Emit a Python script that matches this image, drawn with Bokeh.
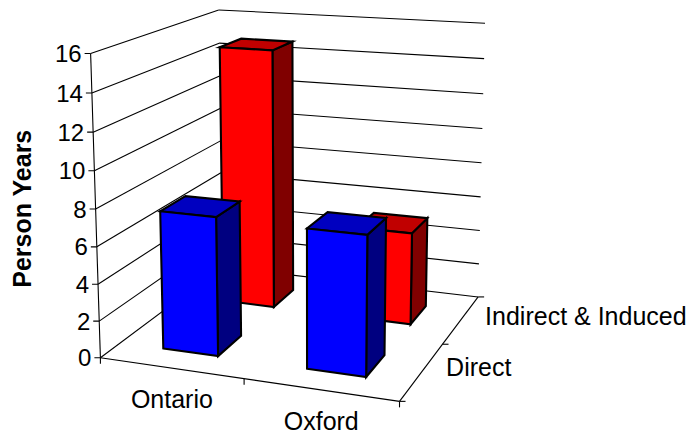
import numpy as np
from bokeh.plotting import figure
from bokeh.core.properties import value
from bokeh.embed import file_html
from bokeh.resources import INLINE

categories = ["Ontario", "Oxford"]
series_names = ["Direct", "Indirect & Induced"]
direct = [7.5, 7.4]
indirect = [14.8, 5.2]
value_ticks = [0, 2, 4, 6, 8, 10, 12, 14, 16]
axis_title = "Person Years"

series = [(0, direct, "#0000ff", "#0000c0", "#000080"),
          (1, indirect, "#ff0000", "#c00000", "#800000")]

# Perspective camera for the 3D box: box coordinates (category, series, value)
# paired with where they land on the page.
CAMERA = [((0, 0, 0), (100, 358)), ((0, 0, 16), (91, 52)), ((0, 2, 16), (217, 10)),
          ((0, 2, 0), (222, 266)), ((2, 2, 0), (478, 296)), ((2, 2, 16), (485, 23)),
          ((2, 0, 0), (398, 401))]


def fit_camera(pairs):
    rows = []
    for (x, y, z), (u, v) in pairs:
        rows.append([x, y, z, 1, 0, 0, 0, 0, -u * x, -u * y, -u * z, -u])
        rows.append([0, 0, 0, 0, x, y, z, 1, -v * x, -v * y, -v * z, -v])
    return np.linalg.svd(np.array(rows, float))[2][-1].reshape(3, 4)


M = fit_camera(CAMERA)


def project(x, y, z):
    h = M @ np.array([x, y, z, 1.0])
    return float(h[0] / h[2]), float(h[1] / h[2])


p = figure(width=690, height=434, x_range=(0, 690), y_range=(434, 0),
           output_backend="svg", toolbar_location=None, min_border=0)
p.axis.visible = False
p.grid.visible = False
p.outline_line_color = None
p.background_fill_color = "#ffffff"
p.border_fill_color = "#ffffff"

INK = "#000000"


def seg(a, b, color=INK, width=1.1):
    pa, pb = project(*a), project(*b)
    p.line([pa[0], pb[0]], [pa[1], pb[1]], line_color=color, line_width=width)


# Walls: gridlines on the side and back, with value ticks at the front edge
for z in value_ticks:
    seg((0, 0, z), (0, 2, z))
    seg((0, 2, z), (2, 2, z))
    u, v = project(0, 0, z)
    p.line([u - 6, u], [v, v], line_color=INK, line_width=1.1)
seg((0, 0, 0), (0, 0, 16))
seg((0, 0, 0), (2, 0, 0))
seg((2, 0, 0), (2, 2, 0))

# Tick marks along the floor edges
for i in range(3):
    u, v = project(i, 0, 0)
    p.line([u, u], [v, v + 6], line_color=INK, line_width=1.1)
    u, v = project(2, i, 0)
    p.line([u, u + 6], [v, v], line_color=INK, line_width=1.1)

# Bars, drawn back to front
BAR_X = (0.31, 0.70)
BAR_D = (0.29, 0.68)


def bar(cat, ser, val, front, top, side):
    x0, x1 = cat + BAR_X[0], cat + BAR_X[1]
    d0, d1 = ser + BAR_D[0], ser + BAR_D[1]
    faces = [
        ([(x1, d0, 0), (x1, d1, 0), (x1, d1, val), (x1, d0, val)], side),
        ([(x0, d0, val), (x1, d0, val), (x1, d1, val), (x0, d1, val)], top),
        ([(x0, d0, 0), (x1, d0, 0), (x1, d0, val), (x0, d0, val)], front),
    ]
    for corners, color in faces:
        pts = [project(*c) for c in corners]
        p.patch([q[0] for q in pts], [q[1] for q in pts], fill_color=color,
                line_color=INK, line_width=2.1, line_join="miter")


for ser, vals, front, top, side in reversed(series):
    for cat, val in enumerate(vals):
        bar(cat, ser, val, front, top, side)

FONT = value("Liberation Sans")


def label(x, y, text, size, align="center", baseline="middle", weight="normal", angle=0.0):
    p.text([x], [y], text=[text], text_font=FONT, text_font_size=size, text_align=align,
           text_baseline=baseline, text_font_style=weight, text_color=INK, angle=angle)


for z in value_ticks:
    u, v = project(0, 0, z)
    label(u - 9, v, str(z), "24px", align="right")
for i, name in enumerate(categories):
    u, v = project(i + 0.5, 0, 0)
    label(u + 1, v + 31, name, "25px")
for i, name in enumerate(series_names):
    u, v = project(2, i + 0.5, 0)
    label(u + 24, v - 4, name, "25px", align="left")
label(21, 208, axis_title, "25px", weight="bold", angle=np.pi / 2)

open("out.html", "w").write(file_html(p, INLINE))
